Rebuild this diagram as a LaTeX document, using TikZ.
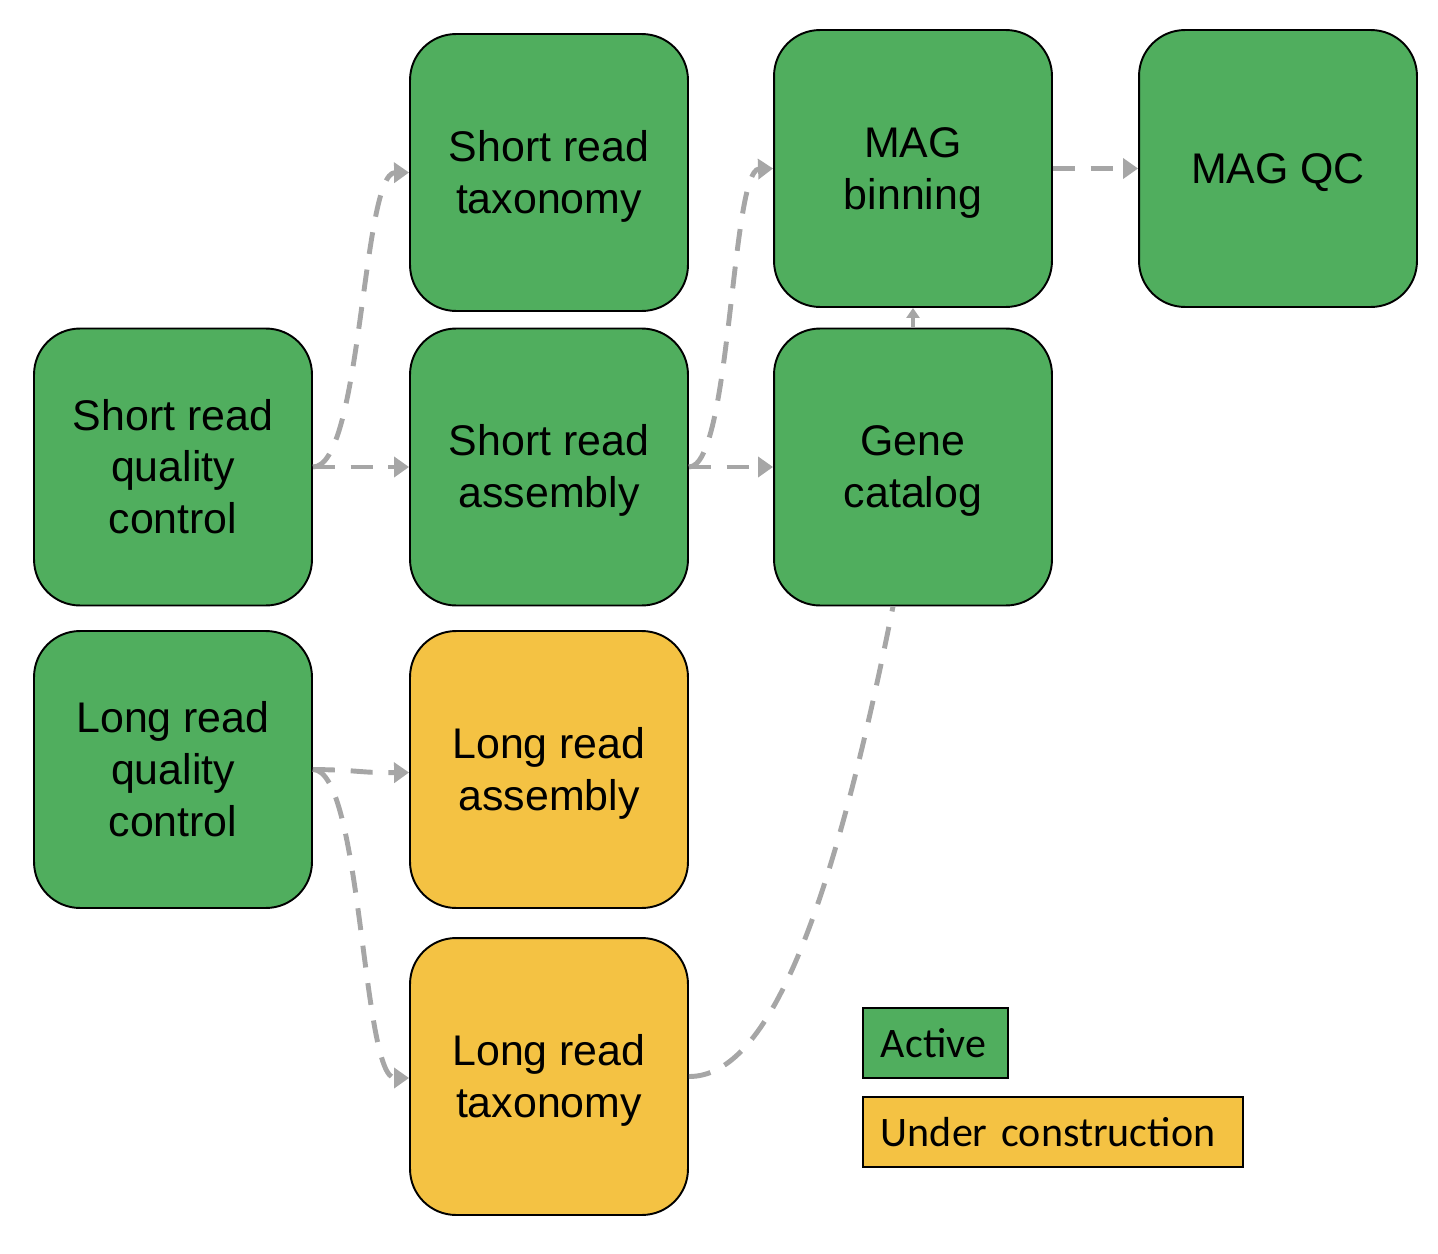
\documentclass[tikz,border=0pt]{standalone}
\usepackage{fontspec}
\setmainfont{Liberation Sans}
\newfontfamily\legfont{Carlito}
\usetikzlibrary{arrows.meta}
\definecolor{actgreen}{HTML}{50AE5E}
\definecolor{constyellow}{HTML}{F4C243}
\definecolor{conngray}{HTML}{A6A6A6}
\newcommand\lnstrut{\rule[-5.2pt]{0pt}{27.3pt}}
\tikzset{
  stagebox/.style={draw=black, line width=1.1pt, rounded corners=0.92cm,
    minimum width=5.56cm, minimum height=5.54cm, inner sep=0pt, align=center,
    font=\fontsize{24.4}{29.5}\selectfont},
  activebox/.style={stagebox, fill=actgreen},
  constbox/.style={stagebox, fill=constyellow},
  legbox/.style={draw=black, line width=1.1pt, minimum height=1.4cm, inner xsep=0.36cm,
    anchor=west, align=left, font=\legfont\fontsize{23.9}{28}\selectfont},
  conn/.style={draw=conngray, line width=2.8pt, dash pattern=on 12.5pt off 9pt,
    -{Triangle[length=0.3cm,width=0.4cm]}},
  plainconn/.style={draw=conngray, line width=2.8pt, dash pattern=on 12.5pt off 9pt},
  shortconn/.style={draw=conngray, line width=2pt,
    -{Triangle[length=0.2cm,width=0.26cm]}}
}
\begin{document}
\begin{tikzpicture}[x=0.02cm, y=-0.02cm]
\useasboundingbox (0,0) rectangle (1438,1254);
% nodes
\node[activebox] (srqc) at (173,467) {\lnstrut Short read\\\lnstrut quality\\\lnstrut control};
\node[activebox] (lrqc) at (173,769.5) {\lnstrut Long read\\\lnstrut quality\\\lnstrut control};
\node[activebox] (srt) at (549,172.5) {\lnstrut Short read\\\lnstrut taxonomy};
\node[activebox] (sra) at (549,467) {\lnstrut Short read\\\lnstrut assembly};
\node[constbox] (lra) at (549,769.5) {\lnstrut Long read\\\lnstrut assembly};
\node[constbox] (lrt) at (549,1076.5) {\lnstrut Long read\\\lnstrut taxonomy};
\node[activebox] (mag) at (913,168.5) {\lnstrut MAG\\\lnstrut binning};
\node[activebox] (gc) at (913,467) {\lnstrut Gene\\\lnstrut catalog};
\node[activebox] (magqc) at (1278,168.5) {\lnstrut MAG QC};
% legend
\node[legbox, fill=actgreen, text width=2.18cm] (legact) at (862,1043) {Active};
\node[legbox, fill=constyellow, text width=6.88cm] (legcons) at (862,1132) {Under construction};
% connectors
\draw[conn] (srqc.east) -- (sra.west);
\draw[conn] (srqc.east) .. controls (362,467) and (362,173) .. (srt.west);
\draw[conn] (sra.east) -- (gc.west);
\draw[conn] (sra.east) .. controls (731,467) and (731,170) .. (mag.west);
\draw[shortconn] (gc.north) -- (mag.south);
\draw[conn] (mag.east) -- (magqc.west);
\draw[conn] (lrqc.east) .. controls (360,770) and (360,773) .. ([yshift=-0.06cm]lra.west);
\draw[conn] (lrqc.east) .. controls (362,770) and (362,1078) .. ([yshift=-0.03cm]lrt.west);
\draw[plainconn] (lrt.east) .. controls (770,1077) and (833,906) .. ([xshift=-0.4cm]gc.south);
\end{tikzpicture}
\end{document}
